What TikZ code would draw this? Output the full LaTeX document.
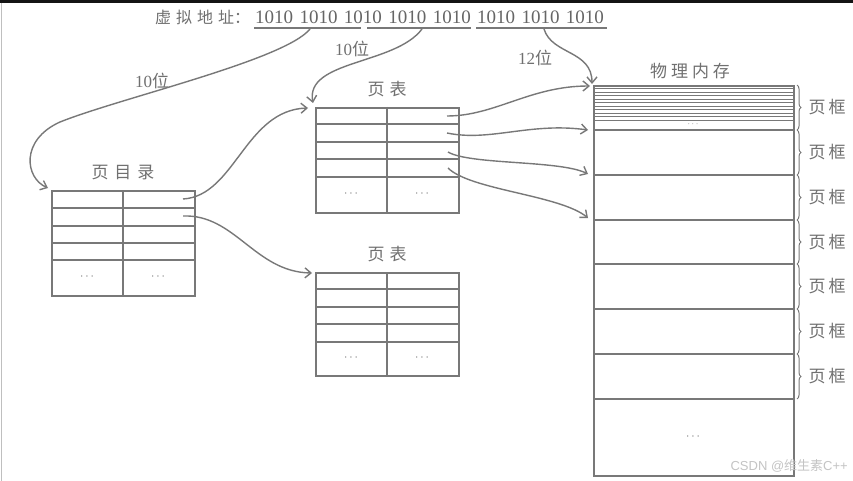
\documentclass[tikz,border=0pt]{standalone}
\usepackage{fontspec}
\setmainfont{Liberation Serif}
\newfontfamily\cjk{Noto Sans CJK SC}
\usetikzlibrary{arrows.meta,decorations.pathreplacing}
\definecolor{ln}{HTML}{787878}
\definecolor{tx}{HTML}{707070}
\definecolor{wm}{HTML}{C4C4C4}
\begin{document}
\begin{tikzpicture}[x=1pt,y=-1pt,
  tbl/.style={draw=ln,line width=1.6pt,inner sep=0pt,anchor=north west},
  grid/.style={draw=ln,line width=1.6pt},
  thin/.style={draw=ln,line width=0.8pt},
  conn/.style={draw=ln,line width=1.4pt,-{Straight Barb[length=6pt,width=10pt]}},
  lbl/.style={text=tx,inner sep=0pt,font=\cjk\fontsize{17}{17}\selectfont},
  num/.style={text=tx,inner sep=0pt,font=\fontsize{17}{17}\selectfont},
  dots/.style={text=tx,inner sep=0pt,font=\fontsize{12}{12}\selectfont},
  brc/.style={draw=ln,line width=1pt,decorate,decoration={brace,amplitude=4pt}}
]
\useasboundingbox (0,0) rectangle (853,481);
\fill[white] (0,0) rectangle (853,481);
\fill[black!92] (0,0) rectangle (853,3);
\draw[black!25,line width=0.8pt] (1,3) -- (1,481);

% virtual address
\node[lbl,anchor=west,font=\cjk\fontsize{16}{16}\selectfont] (va) at (155,17) {虚\hspace{5pt}拟\hspace{5pt}地\hspace{5pt}址：};
\node[num,anchor=west,text=black!60,font=\fontsize{19}{19}\selectfont] (bits) at (255,17)
  {1010\hspace{6.4pt}1010\hspace{6.4pt}1010\hspace{6.4pt}1010\hspace{6.4pt}1010\hspace{6.4pt}1010\hspace{6.4pt}1010\hspace{6.4pt}1010};
\draw[ln,line width=1.2pt] (254,28) -- (361,28);
\draw[ln,line width=1.2pt] (367,28) -- (471,28);
\draw[ln,line width=1.2pt] (476,28) -- (607,28);
\coordinate (u1) at (310,29);
\coordinate (u2) at (422,29);
\coordinate (u3) at (544,29);

\node[num] (l1) at (152,81) {10{\cjk 位}};
\node[num] (l2) at (352,49) {10{\cjk 位}};
\node[num] (l3) at (535,58) {12{\cjk 位}};

% page directory
\node[lbl] (pdl) at (123,173) {页\hspace{6pt}目\hspace{6pt}录};
\node[tbl,minimum width=143pt,minimum height=105pt] (pd) at (51,190) {};
\draw[grid] (123,190) -- (123,295);
\foreach \y in {208,226,243,260} \draw[grid] (51,\y) -- (194,\y);
\node[dots] (pdd1) at (87,277) {$\cdots$};
\node[dots] (pdd2) at (158,277) {$\cdots$};
\coordinate (pd1) at (183,199);
\coordinate (pd2) at (183,216);
\coordinate (pdin) at (48,188);

% page table 1
\node[lbl] (pt1l) at (387,89) {页\hspace{5pt}表};
\node[tbl,minimum width=143pt,minimum height=105pt] (pt1) at (315,107) {};
\draw[grid] (387,107) -- (387,212);
\foreach \y in {124,142,159,177} \draw[grid] (315,\y) -- (458,\y);
\node[dots] (pt1d1) at (351,194) {$\cdots$};
\node[dots] (pt1d2) at (422,194) {$\cdots$};
\coordinate (p1a) at (447,116);
\coordinate (p1b) at (447,133);
\coordinate (p1c) at (448,152);
\coordinate (p1d) at (448,168);
\coordinate (pt1top) at (313,103);
\coordinate (pt1left) at (308,108);

% page table 2
\node[lbl] (pt2l) at (387,254) {页\hspace{5pt}表};
\node[tbl,minimum width=143pt,minimum height=103pt] (pt2) at (315,272) {};
\draw[grid] (387,272) -- (387,375);
\foreach \y in {289,307,324,342} \draw[grid] (315,\y) -- (458,\y);
\node[dots] (pt2d1) at (351,358) {$\cdots$};
\node[dots] (pt2d2) at (422,358) {$\cdots$};
\coordinate (pt2left) at (312,273);

% physical memory
\node[lbl] (meml) at (690,71) {物\hspace{4pt}理\hspace{4pt}内\hspace{4pt}存};
\node[tbl,minimum width=200pt,minimum height=390pt] (mem) at (593,85) {};
\foreach \k in {1,...,10} \draw[thin] (593,85+3.5*\k) -- (793,85+3.5*\k);
\node[dots,font=\fontsize{9}{9}\selectfont] (md1) at (693,124) {$\cdots$};
\foreach \y in {130,175,220,264,309,354,399} \draw[grid] (593,\y) -- (793,\y);
\node[dots] (md2) at (693,437) {$\cdots$};
\coordinate (m0) at (590,86);
\coordinate (m1) at (588,130);
\coordinate (m2) at (588,174);
\coordinate (m3) at (588,218);
\coordinate (mtop) at (592,84);

% braces and frame labels
\foreach \a/\b in {85/130,130/175,175/220,220/264,264/309,309/354,354/399}{
  \draw[brc] (797,\a) -- (797,\b);
  \node[lbl] at (827,{(\a+\b)/2}) {页\hspace{3pt}框};
}

% connectors from address
\draw[conn] (u1) .. controls (285,60) and (120,98) .. (60,122)
               .. controls (20,140) and (25,178) .. (pdin);
\draw[conn] (u2) .. controls (395,65) and (305,60) .. (pt1top);
\draw[conn] (u3) .. controls (552,55) and (592,50) .. (mtop);

% page directory -> page tables
\draw[conn] (pd1) .. controls (235,196) and (245,110) .. (pt1left);
\draw[conn] (pd2) .. controls (235,214) and (255,272) .. (pt2left);

% page table -> memory
\draw[conn] (p1a) .. controls (495,116) and (530,86) .. (m0);
\draw[conn] (p1b) .. controls (490,142) and (530,122) .. (m1);
\draw[conn] (p1c) .. controls (470,165) and (560,160) .. (m2);
\draw[conn] (p1d) .. controls (470,190) and (560,195) .. (m3);

% watermark
\node[text=wm,inner sep=0pt,anchor=east,font=\fontspec{Liberation Sans}\fontsize{13}{13}\selectfont] (wmk) at (848,466) {CSDN @{\cjk 维生素}C++};
\end{tikzpicture}
\end{document}
